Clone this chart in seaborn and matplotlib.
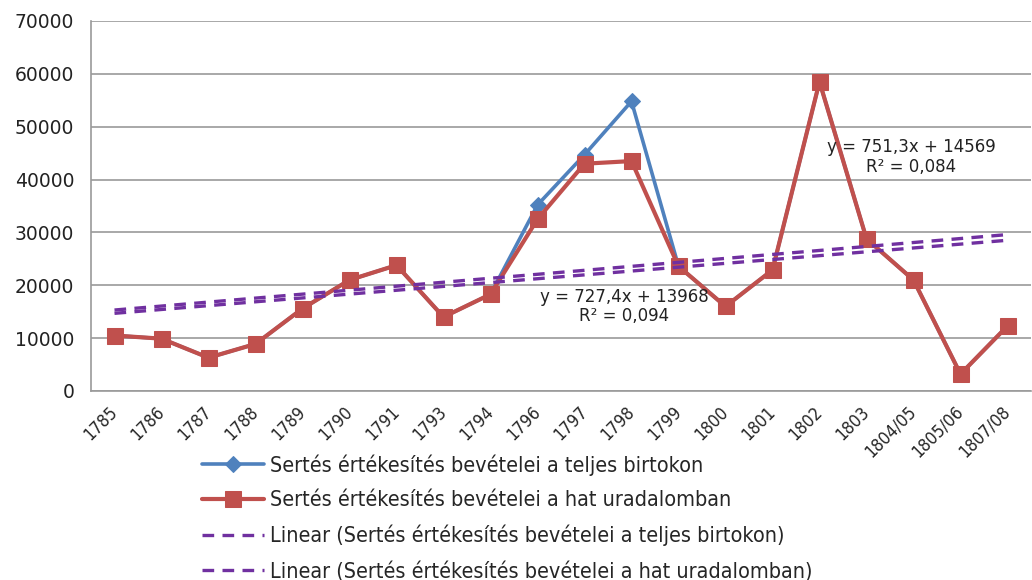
import numpy as np
import pandas as pd
import matplotlib
matplotlib.use("Agg")
import matplotlib.pyplot as plt
import seaborn as sns
from matplotlib import font_manager as fm

# DATA

years = ["1785", "1786", "1787", "1788", "1789", "1790", "1791", "1793", "1794", "1796",
         "1797", "1798", "1799", "1800", "1801", "1802", "1803", "1804/05", "1805/06", "1807/08"]

teljes = [10500, 9900, 6300, 8900, 15600, 21000, 23800, 14000, 18300, 35200,
          44700, 54800, 23600, 16000, 22900, 58500, 28800, 21000, 3200, 12300]

hat = [10500, 9900, 6300, 8900, 15600, 21000, 23800, 14000, 18300, 32500,
       43000, 43500, 23600, 16000, 22900, 58500, 28800, 21000, 3200, 12300]

# trend equations as printed on the chart
trend_teljes = (727.4, 13968)
trend_hat = (751.3, 14569)

name_teljes = "Sertés értékesítés bevételei a teljes birtokon"
name_hat = "Sertés értékesítés bevételei a hat uradalomban"

BLUE = "#4F81BD"
RED = "#C0504D"
PURPLE = "#7030A0"
GRID = "#9a9a9a"

sns.set_style("white")
plt.rcParams["font.family"] = ["DejaVu Sans"]

narrow = fm.FontProperties(family="DejaVu Sans", stretch="condensed", size=15.5)
narrow_x = fm.FontProperties(family="DejaVu Sans", stretch="condensed", size=12.5)

pos = np.arange(len(years))
df = pd.DataFrame({"pos": pos, "teljes": teljes, "hat": hat})

fig = plt.figure(figsize=(10.32, 5.8), dpi=100)
ax = fig.add_axes([91 / 1032, 1 - 391 / 580, 940 / 1032, 370 / 580])

sns.lineplot(data=df, x="pos", y="teljes", ax=ax, color=BLUE, lw=2.6,
             marker="D", markersize=8, markeredgecolor=BLUE, label=name_teljes, zorder=3)
sns.lineplot(data=df, x="pos", y="hat", ax=ax, color=RED, lw=3,
             marker="s", markersize=11, markeredgecolor=RED, label=name_hat, zorder=4)

xs = pos + 1
ax.plot(pos, trend_teljes[0] * xs + trend_teljes[1], color=PURPLE, lw=2.4,
        ls=(0, (3.5, 2.5)), label="Linear (" + name_teljes + ")", zorder=5)
ax.plot(pos, trend_hat[0] * xs + trend_hat[1], color=PURPLE, lw=2.4,
        ls=(0, (3.5, 2.5)), label="Linear (" + name_hat + ")", zorder=5)

ax.text(10.85, 16000, "y = 727,4x + 13968\nR² = 0,094", ha="center", va="center",
        fontsize=12, color="#222222", linespacing=1.1, zorder=6)
ax.text(16.95, 44300, "y = 751,3x + 14569\nR² = 0,084", ha="center", va="center",
        fontsize=12, color="#222222", linespacing=1.1, zorder=6)

ax.set_xlim(-0.5, len(years) - 0.5)
ax.set_ylim(0, 70000)
ax.set_yticks(np.arange(0, 70001, 10000))
ax.set_yticklabels([str(v) for v in range(0, 70001, 10000)], fontsize=13.5, color="#222222")
ax.yaxis.grid(True, color=GRID, lw=1.2)
ax.set_axisbelow(True)

ax.set_xticks(pos)
ax.set_xticklabels(years, rotation=45, ha="right", va="center", rotation_mode="anchor",
                   fontproperties=narrow_x)
for lab in ax.get_xticklabels():
    lab.set_x(lab.get_position()[0])
ax.set_xticks(np.arange(-0.5, len(years), 1), minor=True)
ax.tick_params(axis="x", which="major", length=0, pad=13)
ax.tick_params(axis="x", which="minor", length=6, color=GRID, width=1.2)
ax.tick_params(axis="y", length=6, color=GRID, width=1.2, pad=6)
ax.set_xlabel("")
ax.set_ylabel("")

for s in ["top", "right"]:
    ax.spines[s].set_visible(False)
for s in ["left", "bottom"]:
    ax.spines[s].set_color(GRID)
    ax.spines[s].set_linewidth(1.2)

ax.get_legend().remove()
handles, labels = ax.get_legend_handles_labels()
fig.legend(handles, labels, loc="lower left", bbox_to_anchor=(0.177, -0.036),
           frameon=False, handlelength=2.9, handletextpad=0.25, labelspacing=0.68,
           prop=narrow)

fig.savefig("out.png", dpi=100)
